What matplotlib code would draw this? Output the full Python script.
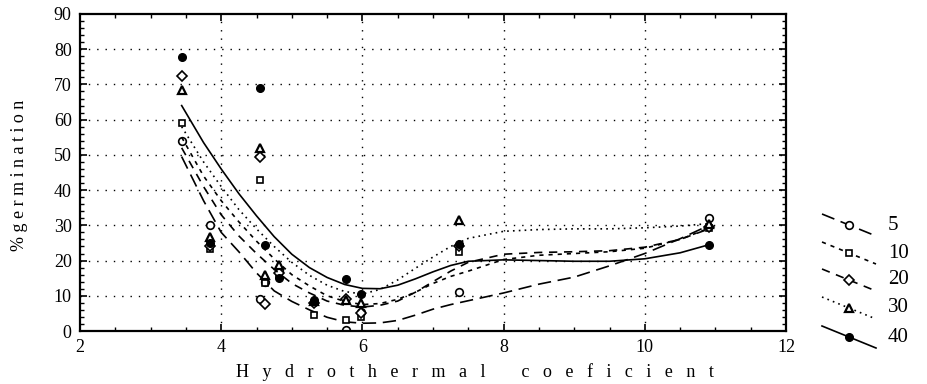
import matplotlib
matplotlib.use("Agg")
import matplotlib.pyplot as plt
from matplotlib.ticker import MultipleLocator
from matplotlib.lines import Line2D

plt.rcParams['font.family'] = ['Liberation Serif', 'DejaVu Serif']

# ---- data ----
sites = [3.44, 3.84, 4.55, 4.62, 4.82, 5.31, 5.77, 5.98, 7.37, 10.91]
g5  = [54.0, 30.0,  9.2, 13.8, 17.0, 8.3, 0.3, 5.5, 11.2, 32.2]
g10 = [59.0, 23.3, 43.0, 13.5, 16.0, 4.5, 3.2, 4.0, 22.5, 29.2]
g20 = [72.5, 24.0, 49.5,  7.8, 16.5, 8.0, 9.2, 5.0, 24.0, 29.5]
g30 = [68.5, 26.7, 52.0, 16.0, 18.7, 8.5, 8.9, 7.9, 31.5, 30.5]
g40 = [77.8, 25.0, 69.0, 24.4, 15.1, 8.8, 14.9, 10.5, 24.6, 24.5]

# fitted curves
cx  = [3.44, 3.75, 4.0, 4.25, 4.5, 4.75, 5.0, 5.25, 5.5, 5.75, 6.0, 6.25, 6.5, 6.75,
       7.0, 7.25, 7.5, 8.0, 8.5, 9.0, 9.5, 10.0, 10.5, 10.91]
f5  = [49.5, 37.0, 28.0, 22.5, 16.5, 11.4, 8.4, 6.0, 3.9, 2.6, 2.2, 2.3, 3.0, 4.5,
       6.2, 7.5, 8.6, 10.8, 13.3, 15.3, 18.5, 22.0, 26.2, 30.0]
f10 = [55.0, 44.0, 37.0, 31.0, 25.5, 20.5, 16.0, 12.8, 10.0, 8.4, 7.5, 7.8, 9.0, 11.0,
       13.5, 15.5, 17.0, 20.3, 21.5, 22.0, 22.5, 23.5, 26.0, 29.2]
f20 = [52.0, 41.0, 33.0, 27.0, 22.0, 17.5, 13.5, 10.8, 8.5, 7.3, 6.8, 7.3, 8.5, 11.0,
       14.0, 17.0, 19.5, 21.8, 22.3, 22.5, 22.8, 23.8, 26.0, 29.0]
f30 = [58.0, 48.0, 41.0, 34.5, 29.0, 24.0, 19.5, 15.8, 13.0, 11.2, 10.5, 11.8, 14.5, 17.8,
       21.0, 24.0, 26.3, 28.3, 28.8, 29.0, 29.0, 29.3, 29.8, 30.5]
f40 = [64.0, 53.5, 46.0, 39.0, 32.7, 26.8, 21.8, 18.0, 15.2, 13.2, 12.1, 12.0, 13.0, 14.8,
       16.8, 18.6, 19.8, 20.2, 20.0, 19.8, 19.8, 20.5, 22.2, 24.5]

labels = ['5', '10', '20', '30', '40']
xticks = [2, 4, 6, 8, 10, 12]
yticks = [0, 10, 20, 30, 40, 50, 60, 70, 80, 90]

series = [
    (g5, f5, dict(marker='o', mfc='white', ms=5.5, mew=1.2), (0, (8, 4))),
    (g10, f10, dict(marker='s', mfc='white', ms=5.0, mew=1.2), (0, (2.5, 3))),
    (g20, f20, dict(marker='D', mfc='white', ms=5.0, mew=1.2), (0, (5, 4))),
    (g30, f30, dict(marker='^', mfc='white', ms=6.0, mew=1.6), (0, (1, 2.5))),
    (g40, f40, dict(marker='o', mfc='black', ms=5.5, mew=1.0), '-'),
]

W, H, DPI = 927, 384, 100
fig = plt.figure(figsize=(W / DPI, H / DPI), dpi=DPI)
L, R, T, B = 80, 786, 14, 331
ax = fig.add_axes([L / W, 1 - B / H, (R - L) / W, (B - T) / H])

for g, f, mk, ls in series:
    ax.plot(sites, g, linestyle='none', color='black', mec='black', **mk)
    ax.plot(cx, f, color='black', lw=1.2, linestyle=ls)

ax.set_xlim(2, 12)
ax.set_ylim(0, 90)
ax.set_xticks(xticks)
ax.set_yticks(yticks)
ax.xaxis.set_minor_locator(MultipleLocator(0.5))
ax.yaxis.set_minor_locator(MultipleLocator(2))
ax.tick_params(which='both', direction='in', top=True, right=True, labelsize=13)
ax.tick_params(which='major', length=5, width=1.2)
ax.tick_params(which='minor', length=3, width=1.0)
ax.tick_params(axis='x', pad=6)
ax.tick_params(axis='y', pad=6)
for s in ax.spines.values():
    s.set_linewidth(1.6)

for yv in yticks[1:-1]:
    ax.axhline(yv, color='black', lw=1.0, linestyle=(0, (1, 5)), zorder=0)
for xv in xticks[1:-1]:
    ax.axvline(xv, color='black', lw=1.0, linestyle=(0, (1, 5)), zorder=0)

# overlay axes in pixel coordinates for labels and legend
ov = fig.add_axes([0, 0, 1, 1], facecolor='none')
ov.set_xlim(0, W)
ov.set_ylim(H, 0)
ov.axis('off')

ov.text(475, 372, '   '.join('Hydrothermal') + '        ' + '   '.join('coeficient'),
        ha='center', va='center', fontsize=13)
ov.text(20, 175, ' '.join('%germination'), rotation=90,
        ha='center', va='center', fontsize=13)

leg_y = [225, 253, 280, 308, 337]
for (g, f, mk, ls), lab, ty in zip(series, labels, leg_y):
    ov.add_line(Line2D([822, 876], [ty - 11, ty + 11], color='black', lw=1.2, linestyle=ls))
    ov.plot([849], [ty], linestyle='none', color='black', mec='black', **mk)
    ov.text(888, ty, lab, ha='left', va='center', fontsize=15)

fig.savefig('out.png', dpi=DPI)
